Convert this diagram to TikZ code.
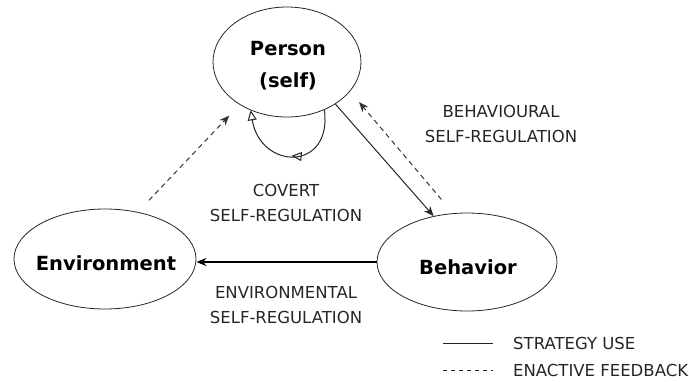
\documentclass[tikz,border=0pt]{standalone}
\usepackage{fontspec}
\setmainfont{DejaVu Sans}
\usetikzlibrary{shapes.geometric,arrows.meta,decorations.markings}
\tikzset{
  oval/.style={ellipse,draw=black!85,line width=0.8pt,inner sep=0pt},
  bigtxt/.style={font=\bfseries\fontsize{19.5}{32}\selectfont,align=center},
  lbl/.style={font=\fontsize{16.5}{25}\selectfont,align=center,inner sep=0pt,text=black!85},
  solidarrow/.style={draw=black!85,line width=1pt,-{Stealth[length=10pt,width=8pt]}},
  fbarrow/.style={draw=black!80,line width=1pt,dash pattern=on 5pt off 4pt,-{Stealth[length=10pt,width=8pt]}},
  covertloop/.style={draw=black!85,line width=1pt,-{Triangle[open,length=10pt,width=9pt]},
    postaction={decorate},
    decoration={markings,mark=at position 0.5 with {\arrow{Triangle[open,length=10pt,width=9pt]}}}},
  legendline/.style={draw=black!85,line width=0.8pt}
}
\begin{document}
\begin{tikzpicture}[x=1pt,y=-1pt]
\useasboundingbox (0,0) rectangle (689,381);
\node[oval,minimum width=148pt,minimum height=110pt] (P) at (287,62) {};
\node[bigtxt] (Ptxt) at (288,66) {Person\\(self)};
\node[oval,minimum width=182pt,minimum height=100pt] (E) at (105,259) {};
\node[bigtxt] (Etxt) at (106,263) {Environment};
\node[oval,minimum width=180pt,minimum height=98pt] (B) at (467,262) {};
\node[bigtxt] (Btxt) at (468,267) {Behavior};

% strategy use: person -> behavior
\draw[solidarrow] (P.-41) -- (B.126);
% behavioural feedback
\draw[fbarrow,shorten <=18pt,shorten >=14pt] (B.106.6) -- (P.-25.3);
% environmental feedback
\draw[fbarrow,shorten <=16pt,shorten >=15pt] (E.55) -- (P.-138);
% environmental self-regulation
\draw[draw=black,line width=1.6pt,-{Stealth[length=10pt,width=8pt]}] (B.west) -- (E.east |- B.west);
% covert loop
\draw[covertloop] (P.-52) .. controls +(8,62) and +(10,60) .. (P.-127);

\node[lbl] (cov) at (286,203) {COVERT\\SELF-REGULATION};
\node[lbl] (beh) at (501,124) {BEHAVIOURAL\\SELF-REGULATION};
\node[lbl] (env) at (286,305) {ENVIRONMENTAL\\SELF-REGULATION};

% legend
\coordinate (s1) at (443,343);
\coordinate (s2) at (493,343);
\coordinate (d1) at (443,370);
\coordinate (d2) at (493,370);
\draw[legendline] (s1) -- (s2);
\draw[legendline,dash pattern=on 4pt off 4pt] (d1) -- (d2);
\node[lbl,anchor=west] (l1) at (513,343) {STRATEGY USE};
\node[lbl,anchor=west] (l2) at (513,370) {ENACTIVE FEEDBACK};
\end{tikzpicture}
\end{document}
